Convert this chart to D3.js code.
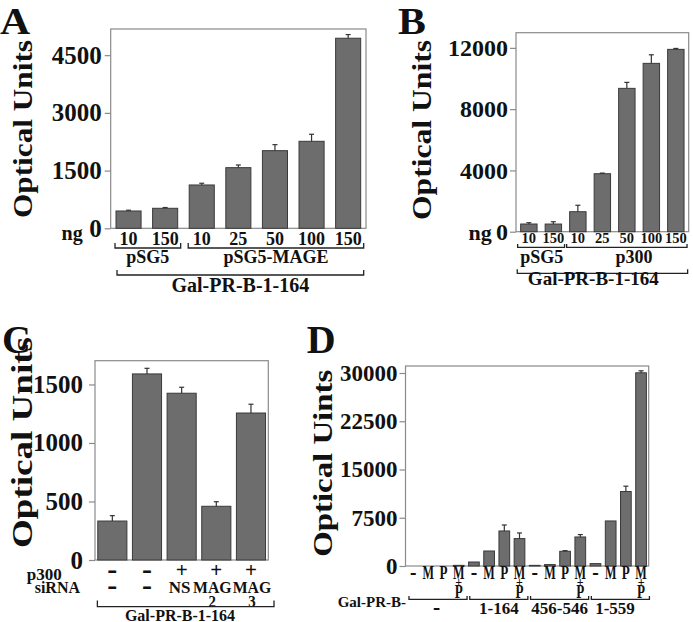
<!DOCTYPE html>
<html><head><meta charset="utf-8">
<script src="https://cdn.jsdelivr.net/npm/d3@7"></script>
<style>
html,body{margin:0;padding:0;background:#fff;}
svg{display:block;}
text{font-family:"Liberation Serif","Times New Roman",serif;font-weight:bold;fill:#111;}
</style>
</head><body>
<svg id="chart" width="693" height="622"></svg>
<script>
// ---------------- DATA ----------------
const aCategories = ["10","150","10","25","50","100","150"];
const aValues = [450,520,1126,1576,2018,2261,4940];
const aErrors = [20,20,45,70,156,183,95];
const aTicks = [0,1500,3000,4500];
const aGroups = ["pSG5","pSG5-MAGE"];
const aGroupSpans = [[0,1],[2,6]];

const bCategories = ["10","150","10","25","50","100","150"];
const bValues = [502,500,1305,3785,9357,10988,11902];
const bErrors = [85,150,420,40,390,560,60];
const bTicks = [0,4000,8000,12000];
const bGroups = ["pSG5","p300"];
const bGroupSpans = [[0,1],[2,6]];

const cP300 = ["-","-","+","+","+"];
const cSiRNA = ["-","-","NS","MAG","MAG"];
const cSiRNASub = ["","","","2","3"];
const cValues = [333,1590,1425,459,1256];
const cErrors = [46,48,51,39,75];
const cTicks = [0,500,1000,1500];

const dCategories = ["-","M","P","M+P"];
const dGroups = ["-","1-164","456-546","1-559"];
const dValues = [0,0,0,100, 622,2334,5446,4263, 100,218,2287,4513, 373,7002,11577,30031];
const dErrors = [0,0,0,0, 0,0,930,870, 0,0,100,370, 0,0,830,310];
const dTicks = [0,7500,15000,22500,30000];

const construct = "Gal-PR-B-1-164";

// ---------------- DRAW ----------------
const svg = d3.select("#chart");
const BAR_FILL = "#6d6d6d", BAR_STROKE = "#3a3a3a", FRAME = "#8a8a8a";

function txt(g, x, y, s, size, anchor, sx){
  return g.append("text")
    .attr("transform", `translate(${x},${y})` + (sx && sx !== 1 ? ` scale(${sx},1)` : ""))
    .attr("text-anchor", anchor || "middle")
    .style("font-size", size + "px")
    .text(s);
}
// narrow text: width forced through textLength
function ntxt(g, x, y, s, size, w){
  return g.append("text").attr("x", x).attr("y", y)
    .attr("text-anchor","middle").style("font-size", size + "px")
    .attr("textLength", w).attr("lengthAdjust","spacingAndGlyphs").text(s);
}
function bracket(g, x1, x2, yb, yt){
  g.append("path").attr("d", `M${x1},${yt}V${yb}H${x2}V${yt}`)
    .attr("fill","none").attr("stroke","#222").attr("stroke-width",1.3);
}
function title(g, cx, cy, s, size, len){
  g.append("text").attr("transform", `translate(${cx},${cy}) rotate(-90)`)
    .attr("text-anchor","middle").attr("dominant-baseline","central")
    .attr("textLength", len).attr("lengthAdjust","spacingAndGlyphs")
    .style("font-size", size + "px").text(s);
}

function panel(cfg){
  const g = svg.append("g");
  const x = d3.scaleBand().domain(d3.range(cfg.values.length))
    .range([cfg.left, cfg.right]).paddingInner(cfg.pi).paddingOuter(cfg.po);
  const y = d3.scaleLinear().domain([0, cfg.ymax]).range([cfg.bottom, cfg.top]);
  const bw = x.bandwidth();

  g.append("rect").attr("x", cfg.left).attr("y", cfg.top)
    .attr("width", cfg.right - cfg.left).attr("height", cfg.bottom - cfg.top)
    .attr("fill","none").attr("stroke", FRAME).attr("stroke-width",1.2);

  const axG = g.append("g").attr("transform", `translate(${cfg.left},0)`)
    .call(d3.axisLeft(y).tickValues(cfg.ticks).tickSize(6).tickPadding(cfg.tickPad).tickFormat(d3.format("d")));
  axG.select(".domain").remove();
  axG.selectAll(".tick line").attr("stroke", FRAME).attr("stroke-width",1.2);
  axG.selectAll(".tick text").style("font-size", cfg.tickFont + "px").attr("fill","#111");

  g.selectAll("rect.bar").data(cfg.values).join("rect").attr("class","bar")
    .attr("x", (d,i) => x(i)).attr("y", d => y(d))
    .attr("width", bw).attr("height", d => cfg.bottom - y(d))
    .attr("fill", BAR_FILL).attr("stroke", BAR_STROKE).attr("stroke-width",1);

  cfg.values.forEach((v,i) => {
    const e = cfg.errors[i];
    if (!e) return;
    const cx = x(i) + bw/2;
    g.append("line").attr("x1",cx).attr("x2",cx).attr("y1",y(v)).attr("y2",y(v+e))
      .attr("stroke","#333").attr("stroke-width",1.2);
    g.append("line").attr("x1",cx-2.5).attr("x2",cx+2.5).attr("y1",y(v+e)).attr("y2",y(v+e))
      .attr("stroke","#333").attr("stroke-width",1.2);
  });
  return {g, x, y, bw};
}

// ---- Panel A ----
{
  const p = panel({values:aValues, errors:aErrors, ticks:aTicks, left:110.7, right:366, top:29, bottom:228.3,
    ymax:5180, pi:0.315, po:0.145, tickFont:25, tickPad:3});
  const {g, x, bw} = p;
  txt(g, 0, 33.5, "A", 38, "start", 1.1);
  title(g, 23, 129, "Optical Units", 27, 178);
  txt(g, 82.7, 240, "ng", 20, "end");
  aCategories.forEach((c,i) => txt(g, x(i)+bw/2, 245, c, 18));
  aGroupSpans.forEach((s,k) => {
    const x1 = x(s[0]) - 1, x2 = x(s[1]) + bw + 3;
    bracket(g, x1, x2, 248, 243);
    txt(g, (x1+x2)/2, 263, aGroups[k], 18);
  });
  const X1 = x(0)+1, X2 = x(aValues.length-1)+bw+3;
  bracket(g, X1, X2, 275, 270);
  txt(g, (X1+X2)/2, 291.5, construct, 20);
}

// ---- Panel B ----
{
  const p = panel({values:bValues, errors:bErrors, ticks:bTicks, left:516, right:688.7, top:32.7, bottom:231.7,
    ymax:12990, pi:0.33, po:0.19, tickFont:24, tickPad:2});
  const {g, x, bw} = p;
  txt(g, 398, 33.5, "B", 38, "start", 1.1);
  title(g, 421.7, 130, "Optical Units", 27, 180);
  txt(g, 491.7, 240, "ng", 22, "end");
  bCategories.forEach((c,i) => txt(g, x(i)+bw/2, 242.7, c, 14.5));
  bGroupSpans.forEach((s,k) => {
    const x1 = x(s[0]) - 3, x2 = x(s[1]) + bw + 3;
    bracket(g, x1, x2, 247.3, 244);
    txt(g, k === 0 ? 541.7 : 634, 263, bGroups[k], 18);
  });
  const X1 = x(0)-3.4, X2 = x(bValues.length-1)+bw+3.6;
  bracket(g, X1, X2, 273.3, 269.3);
  txt(g, 593.3, 285, construct, 19);
}

// ---- Panel C ----
{
  const p = panel({values:cValues, errors:cErrors, ticks:cTicks, left:95, right:268.3, top:360.7, bottom:560,
    ymax:1703, pi:0.16, po:0.08, tickFont:25, tickPad:6});
  const {g, x, bw} = p;
  txt(g, 2, 353, "C", 40, "start");
  title(g, 21.5, 442.5, "Optical Units", 30, 211);
  txt(g, 61.7, 579.5, "p300", 17, "end");
  txt(g, 80, 593, "siRNA", 16, "end");
  cP300.forEach((c,i) => {
    const cx = x(i)+bw/2;
    if (c === "-") txt(g, cx, 579, "-", 30);
    else txt(g, cx, 576.5, "+", 21);
  });
  cSiRNA.forEach((c,i) => {
    const cx = x(i)+bw/2;
    if (c === "-") txt(g, cx, 594.5, "-", 30);
    else if (c === "NS") txt(g, cx - 2, 593.3, c, 17);
    else {
      const t = g.append("text").attr("transform", `translate(${cx + (i === 3 ? -4 : 1)},593.3) scale(0.93,1)`)
        .attr("text-anchor","middle").style("font-size","17px");
      t.append("tspan").attr("x",0).attr("y",0).text(c);
      t.append("tspan").attr("x",0).attr("y",13.2).style("font-size","16px").text(cSiRNASub[i]);
    }
  });
  bracket(g, x(0)-0.4, 274, 606.7, 600.5);
  txt(g, 180, 620.5, construct, 16);
}

// ---- Panel D ----
{
  const p = panel({values:dValues, errors:dErrors, ticks:dTicks, left:405.5, right:648.7, top:366, bottom:566,
    ymax:31088, pi:0.295, po:0.15, tickFont:23, tickPad:2});
  const {g, x, bw} = p;
  txt(g, 306.7, 353, "D", 40, "start");
  title(g, 322, 463.3, "Optical Uints", 28, 187);
  dGroups.forEach((gl,k) => {
    dCategories.forEach((c,j) => {
      const i = k*dCategories.length + j;
      const cx = x(i)+bw/2;
      if (c === "-") ntxt(g, cx, 580, "-", 24, 6.5);
      else if (c === "M+P") {
        const t = g.append("text").attr("text-anchor","middle").style("font-size","18px");
        t.append("tspan").attr("x",cx).attr("y",579.3)
          .attr("textLength",11.5).attr("lengthAdjust","spacingAndGlyphs").text("M");
        t.append("tspan").attr("x",cx).attr("y",586).style("font-size","12px").text("+");
        t.append("tspan").attr("x",cx).attr("y",598)
          .attr("textLength",8).attr("lengthAdjust","spacingAndGlyphs").text("P");
      } else ntxt(g, cx, 579.3, c, 18, c === "M" ? 11.5 : 8);
    });
    const i0 = k*dCategories.length, i1 = i0 + dCategories.length - 1;
    const x1 = x(i0) + 1.2, x2 = x(i1) + bw + 3;
    bracket(g, x1, x2, 599.3, 596);
    const lx = k === 0 ? 436.7 : (k === 3 ? 615 : (x1+x2)/2);
    if (k === 0) txt(g, lx, 615, gl, 24, "middle", 0.9);
    else txt(g, lx, 614, gl, 17);
  });
  txt(g, 406, 607, "Gal-PR-B-", 15, "end");
}
</script>
</body></html>
